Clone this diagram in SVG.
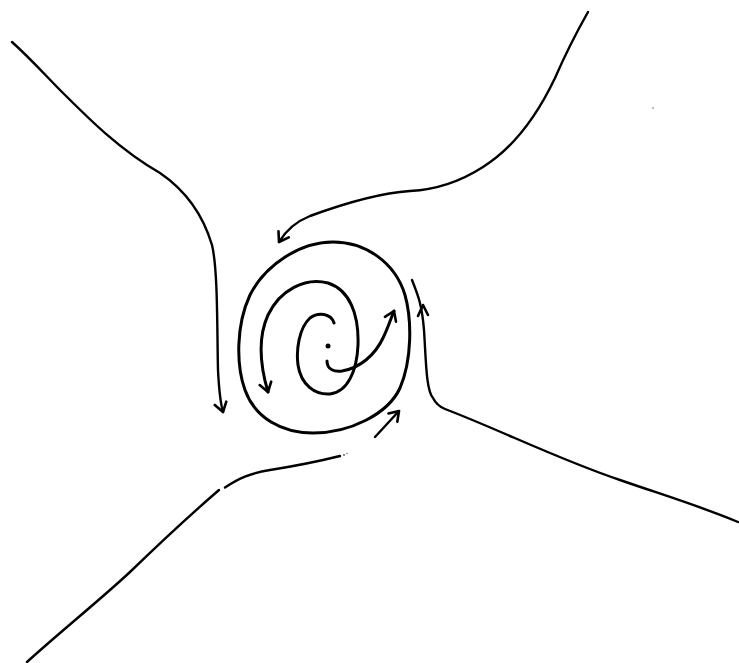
<svg xmlns="http://www.w3.org/2000/svg" width="739" height="663" viewBox="0 0 739 663">
  <style>
    .ln { fill: none; stroke: #000; stroke-width: 2.4; stroke-linecap: round; stroke-linejoin: round; }
    .sp { fill: none; stroke: #000; stroke-width: 3; stroke-linecap: round; stroke-linejoin: round; }
    .ah { fill: none; stroke: #000; stroke-width: 2.6; stroke-linecap: round; stroke-linejoin: round; }
  </style>
  <defs>
    <marker id="arr" markerUnits="userSpaceOnUse" markerWidth="16" markerHeight="16" refX="12" refY="8" orient="auto" viewBox="0 0 16 16">
      <path d="M3,2 L12,8 L3,14" fill="none" stroke="#000" stroke-width="2.6" stroke-linecap="round" stroke-linejoin="round"/>
    </marker>
  </defs>
  <rect width="739" height="663" fill="#fff"/>
  <g id="spiral">
    <path class="sp" d="M333,242 C365,242 395,262 405,295 C412,320 412,360 400,388 C388,414 350,433 313,433 C282,433 255,418 245,390 C236,365 236,325 250,295 C265,265 300,242 333,242 Z"/>
    <path class="sp" marker-end="url(#arr)" d="M334,323 C331,313 318,312 310,318 C299,328 296,350 298,365 C301,385 315,395 330,394 C348,392 357,370 358,345 C359,315 350,290 328,283 C305,277 280,290 268,315 C258,337 260,365 268,392"/>
    <path class="sp" marker-end="url(#arr)" d="M327,361 C327,370 335,372 342,371 C360,368 375,355 383,338 C388,328 391,318 394,311"/>
    <circle cx="328" cy="346" r="2.5" fill="#000"/>
  </g>
  <g id="connectors">
    <path class="ln" marker-end="url(#arr)" d="M12,42 C30,58 45,75 60,90 C90,120 120,150 160,173 C185,190 203,215 212,245 C218,270 217,330 218,370 C219,390 221,405 223,412"/>
    <path class="ln" marker-end="url(#arr)" d="M588,12 C575,35 565,55 555,78 C535,120 510,150 483,167 C455,185 430,190 410,191 C380,193 340,205 310,216 C295,222 285,232 279,242"/>
    <path class="ln" d="M412,280 C418,295 422,305 424,330 C426,360 426,390 433,398 C436,404 440,407 445,409 C500,430 560,460 620,480 C660,494 700,506 738,522"/>
    <path class="ah" d="M418,316 L423,305 L428,315"/>
    <path class="ln" marker-end="url(#arr)" d="M375,437 L399,411"/>
    <path class="ln" d="M27,662 C60,632 100,600 130,572 C160,543 190,515 219,490"/>
    <path class="ln" d="M225,487.5 C238,479 250,473 270,470 C295,466 320,461 340,456"/>
    <circle cx="344" cy="455" r="0.9" fill="#555"/>
    <circle cx="347" cy="453.5" r="0.8" fill="#777"/>
    <circle cx="653" cy="108" r="0.8" fill="#666"/>
  </g>
</svg>
